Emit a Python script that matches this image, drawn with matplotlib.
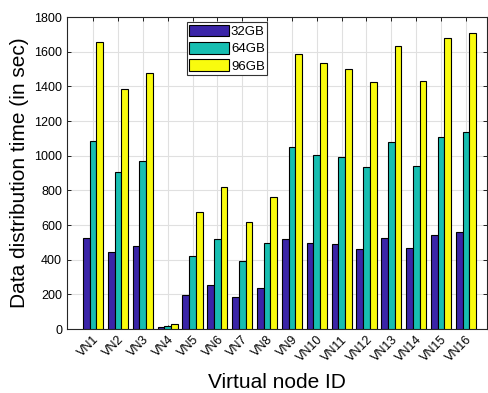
import numpy as np
import matplotlib
matplotlib.use("Agg")
import matplotlib.pyplot as plt
import matplotlib.transforms as mtransforms

plt.rcParams['font.family'] = ['Liberation Sans', 'DejaVu Sans']

# data
nodes = ['VN%d' % i for i in range(1, 17)]
series = ['32GB', '64GB', '96GB']
gb32 = [525, 446, 477, 12, 194, 252, 187, 235, 517, 498, 488, 460, 525, 465, 540, 560]
gb64 = [1083, 904, 967, 19, 421, 517, 394, 494, 1048, 1006, 992, 933, 1077, 942, 1106, 1135]
gb96 = [1654, 1383, 1475, 27, 673, 819, 619, 760, 1585, 1533, 1502, 1425, 1633, 1432, 1680, 1709]
colors = ['#3B25A8', '#17BEB1', '#F9FB0E']

fig = plt.figure(figsize=(4.88, 3.93), dpi=100)
ax = fig.add_axes([67/488, 1-329/393, (487-67)/488, (329-17)/393])

x = np.arange(1, len(nodes) + 1)
w = 0.27
for k, (vals, lab) in enumerate(zip([gb32, gb64, gb96], series)):
    ax.bar(x + (k - 1) * w, vals, w, color=colors[k], edgecolor='black',
           linewidth=0.8, label=lab, zorder=3)

ax.set_xlim(-0.05, 16.85)
ax.set_ylim(0, 1800)
ax.set_yticks(np.arange(0, 1801, 200))
ax.set_xticks(x)
ax.set_xticklabels(nodes, rotation=45, ha='right', rotation_mode='anchor', fontsize=9)
# shift rotated labels a little to the right, like the reference
off = mtransforms.ScaledTranslation(4/100, -2/100, fig.dpi_scale_trans)
for t in ax.get_xticklabels():
    t.set_transform(t.get_transform() + off)
ax.tick_params(axis='y', labelsize=9)
ax.tick_params(direction='in', top=True, right=True, length=3, width=0.6)
ax.grid(True, color='#e0e0e0', linewidth=0.8, zorder=0)
ax.set_axisbelow(True)
for s in ax.spines.values():
    s.set_linewidth(0.8)
    s.set_color('#262626')

ax.set_xlabel('Virtual node ID', fontsize=15, labelpad=6)
ax.set_ylabel('Data distribution time (in sec)', fontsize=15, labelpad=4)

leg = ax.legend(loc='upper left', bbox_to_anchor=(0.285, 0.983), fontsize=9.5,
                fancybox=False, framealpha=1, edgecolor='#333333',
                handlelength=3.0, handleheight=0.95, handletextpad=0.15,
                borderpad=0.2, labelspacing=0.3, borderaxespad=0)
leg.get_frame().set_linewidth(0.8)

plt.savefig('out.png', dpi=100)
